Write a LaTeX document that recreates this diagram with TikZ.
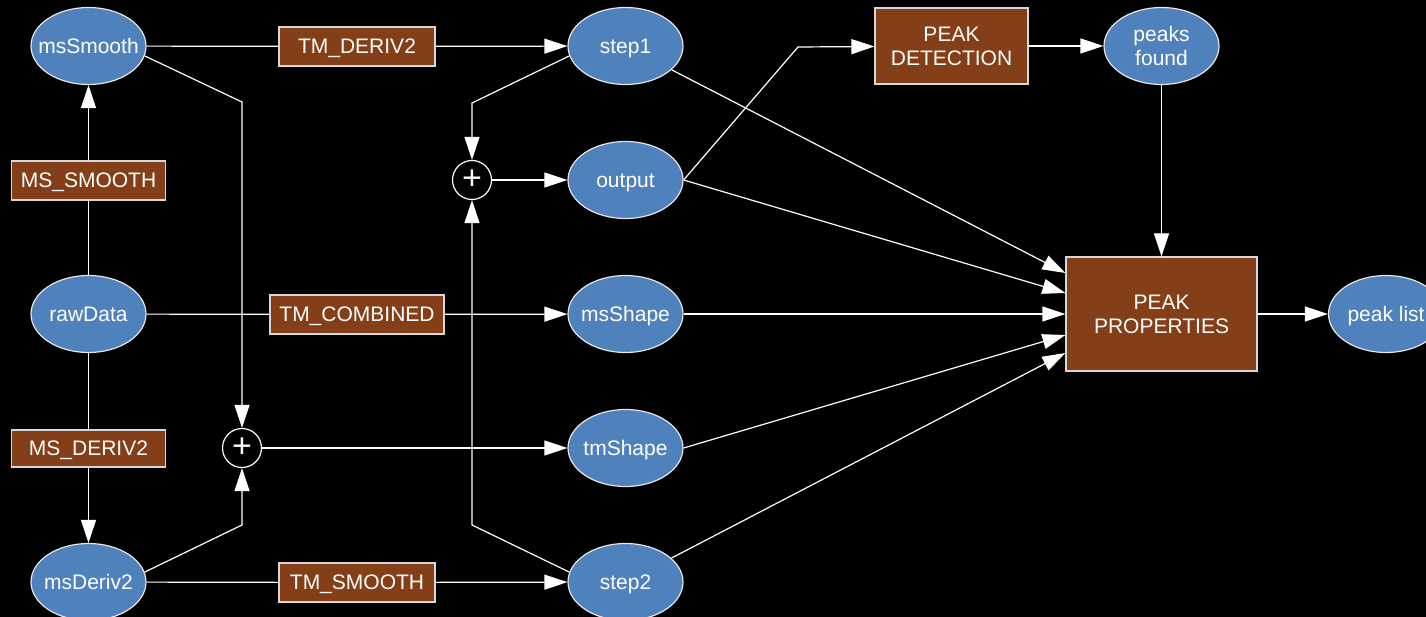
\documentclass[tikz,border=0pt]{standalone}
\usepackage{fontspec}
\setmainfont{Liberation Sans}
\usetikzlibrary{arrows.meta,shapes.geometric,calc}
\definecolor{ellblue}{RGB}{79,129,189}
\definecolor{ellline}{RGB}{230,230,230}
\definecolor{boxbrown}{RGB}{132,62,24}
\definecolor{boxline}{RGB}{215,215,215}
% zero-size centred label: the shape size comes from its minimum size only,
% and the text sits slightly below the centre line
\newcommand\lbl[1]{\makebox[0pt]{\raisebox{-7.5pt}[0pt][0pt]{\begin{tabular}{@{}c@{}}#1\end{tabular}}}}
\begin{document}
\begin{tikzpicture}[x=1pt,y=-1pt,
  every node/.style={font=\fontsize{21}{24}\selectfont, text=white},
  data/.style={ellipse, draw=ellline, fill=ellblue, line width=1.2pt,
    minimum width=115pt, minimum height=77pt, inner sep=0pt},
  proc/.style={rectangle, draw=boxline, fill=boxbrown, line width=1.2pt,
    inner sep=0pt},
  sum/.style={circle, draw=white, fill=black, line width=1.2pt,
    minimum size=39pt, inner sep=0pt},
  link/.style={draw=white, line width=1.2pt},
  flow/.style={link, -{Triangle[length=23pt,width=15pt]}},
]
\fill[black] (0,0) rectangle (1426,617);
\useasboundingbox (0,0) rectangle (1426,617);
\clip (0,0) rectangle (1426,617);

% data nodes
\node[data] (ms)  at (88.5,46)  {\lbl{msSmooth}};
\node[data] (raw) at (88.5,314) {\lbl{rawData}};
\node[data] (md)  at (88.5,582) {\lbl{msDeriv2}};
\node[data] (s1)  at (625.5,46)  {\lbl{step1}};
\node[data] (out) at (625.5,180) {\lbl{output}};
\node[data] (msh) at (625.5,314) {\lbl{msShape}};
\node[data] (tsh) at (625.5,448) {\lbl{tmShape}};
\node[data] (s2)  at (625.5,582) {\lbl{step2}};
\node[data] (pf)  at (1161.5,46) {\lbl{peaks\\found}};
\node[data] (pl)  at (1386,314)  {\lbl{peak list}};

% processing steps
\node[proc, minimum width=156pt, minimum height=39pt] (tmd2) at (357,46.5)  {\lbl{TM\_DERIV2}};
\node[proc, minimum width=154pt, minimum height=39pt] (mss)  at (88.5,180.5) {\lbl{MS\_SMOOTH}};
\node[proc, minimum width=154pt, minimum height=37pt] (msd2) at (88.5,448.5) {\lbl{MS\_DERIV2}};
\node[proc, minimum width=156pt, minimum height=39pt] (tms)  at (357,582.5) {\lbl{TM\_SMOOTH}};
\node[proc, minimum width=174pt, minimum height=39pt] (tmc)  at (357,314.5) {\lbl{TM\_COMBINED}};
\node[proc, minimum width=153pt, minimum height=76pt] (pd)   at (951.5,46)  {\lbl{PEAK\\DETECTION}};
\node[proc, minimum width=191pt, minimum height=114pt] (pp)  at (1161.5,314) {\lbl{PEAK\\PROPERTIES}};

% summing junctions
\node[sum] (p1) at (472,180) {\fontsize{34}{34}\selectfont +};
\node[sum] (p2) at (242,448) {\fontsize{34}{34}\selectfont +};

% bend points
\coordinate (b1) at (242,102);
\coordinate (b2) at (242,525);
\coordinate (b3) at (472,103);
\coordinate (b4) at (472,525);
\coordinate (b5) at (798,47);

% connectors
\draw[link] (ms) -- (tmd2);
\draw[flow] (tmd2) -- (s1);
\draw[link] (raw) -- (mss);
\draw[flow] (mss) -- (ms);
\draw[link] (raw) -- (msd2);
\draw[flow] (msd2) -- (md);
\draw[link] (raw) -- (tmc);
\draw[flow] (tmc) -- (msh);
\draw[link] (md) -- (tms);
\draw[flow] (tms) -- (s2);
\draw[flow] (ms.-10) -- (b1) -- (p2);
\draw[flow] (md.10) -- (b2) -- (p2);
\draw[flow] (p2) -- (tsh);
\draw[flow] (s1.190) -- (b3) -- (p1);
\draw[flow] (s2.170) -- (b4) -- (p1);
\draw[flow] (p1) -- (out);
\draw[flow] (out.east) -- (b5) -- (pd);
\draw[flow] (pd) -- (pf);
\draw[flow] (pf) -- (pp);
\draw[flow] (pp) -- (pl);
\draw[flow] (s1) -- ([yshift=41pt]pp.west);
\draw[flow] (out.east) -- ([yshift=21pt]pp.west);
\draw[flow] (msh) -- (pp);
\draw[flow] (tsh.east) -- ([yshift=-21pt]pp.west);
\draw[flow] (s2) -- ([yshift=-39pt]pp.west);
\end{tikzpicture}
\end{document}
